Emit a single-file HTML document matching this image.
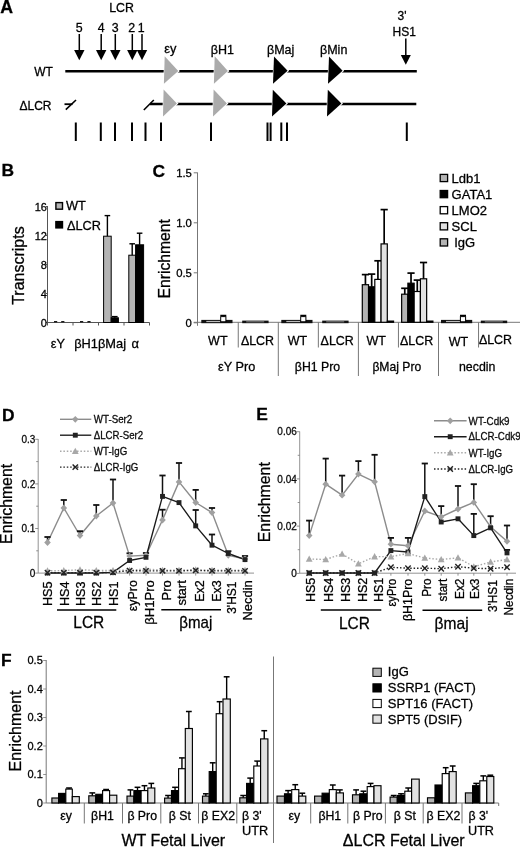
<!DOCTYPE html>
<html lang="en"><head><meta charset="utf-8"><title>Figure</title>
<style>html,body{margin:0;padding:0;background:#fff;}svg{display:block;filter:grayscale(1);}text{font-family:'Liberation Sans', sans-serif;stroke:#000;stroke-width:0.28px;}</style>
</head><body>
<svg width="520" height="848" viewBox="0 0 520 848">
<rect x="0" y="0" width="520" height="848" fill="#fff"/>
<g id="panelA">
<text x="0.2" y="12.7" font-size="17.7" text-anchor="start" font-weight="bold" fill="#000">A</text>
<text x="121.6" y="12.1" font-size="12.5" text-anchor="middle" textLength="24.8" lengthAdjust="spacingAndGlyphs" fill="#000">LCR</text>
<text x="79.3" y="31.6" font-size="12.4" text-anchor="middle" fill="#000">5</text>
<text x="101.2" y="31.6" font-size="12.4" text-anchor="middle" fill="#000">4</text>
<text x="115.2" y="31.6" font-size="12.4" text-anchor="middle" fill="#000">3</text>
<text x="131.6" y="31.6" font-size="12.4" text-anchor="middle" fill="#000">2</text>
<text x="141.3" y="31.6" font-size="12.4" text-anchor="middle" fill="#000">1</text>
<line x1="79.3" y1="34" x2="79.3" y2="52" stroke="#000" stroke-width="1.5"/>
<polygon points="74.10,50.00 84.50,50.00 79.30,60.30" fill="#000" stroke="none" stroke-width="0"/>
<line x1="101.2" y1="34" x2="101.2" y2="52" stroke="#000" stroke-width="1.5"/>
<polygon points="96.00,50.00 106.40,50.00 101.20,60.30" fill="#000" stroke="none" stroke-width="0"/>
<line x1="115.3" y1="34" x2="115.3" y2="52" stroke="#000" stroke-width="1.5"/>
<polygon points="110.10,50.00 120.50,50.00 115.30,60.30" fill="#000" stroke="none" stroke-width="0"/>
<line x1="132.3" y1="34" x2="132.3" y2="52" stroke="#000" stroke-width="1.5"/>
<polygon points="127.10,50.00 137.50,50.00 132.30,60.30" fill="#000" stroke="none" stroke-width="0"/>
<line x1="142.0" y1="34" x2="142.0" y2="52" stroke="#000" stroke-width="1.5"/>
<polygon points="136.80,50.00 147.20,50.00 142.00,60.30" fill="#000" stroke="none" stroke-width="0"/>
<text x="402" y="20" font-size="12" text-anchor="middle" fill="#000">3'</text>
<text x="404.2" y="35.6" font-size="12" text-anchor="middle" fill="#000">HS1</text>
<line x1="405.8" y1="38.5" x2="405.8" y2="57" stroke="#000" stroke-width="1.5"/>
<polygon points="400.80,55.00 410.80,55.00 405.80,64.80" fill="#000" stroke="none" stroke-width="0"/>
<text x="34.3" y="75.5" font-size="12" text-anchor="start" fill="#000">WT</text>
<line x1="65.3" y1="71.3" x2="416.8" y2="71.3" stroke="#000" stroke-width="2.5"/>
<text x="19.5" y="109.6" font-size="12" text-anchor="start" fill="#000">ΔLCR</text>
<line x1="64.5" y1="104.2" x2="72.5" y2="104.2" stroke="#000" stroke-width="1.8"/>
<line x1="65.8" y1="109.6" x2="76" y2="100" stroke="#000" stroke-width="1.6"/>
<line x1="143.8" y1="110" x2="153.8" y2="100" stroke="#000" stroke-width="1.6"/>
<line x1="150" y1="104" x2="416.3" y2="104" stroke="#000" stroke-width="2.5"/>
<polygon points="164.10,55.10 179.90,71.00 163.30,84.90" fill="#fff" stroke="none" stroke-width="0"/>
<polygon points="164.70,56.30 178.30,71.00 163.90,83.70" fill="#ababab" stroke="none" stroke-width="0"/>
<polygon points="163.00,88.20 178.50,103.60 162.40,117.80" fill="#fff" stroke="none" stroke-width="0"/>
<polygon points="163.60,89.40 176.90,103.60 163.00,116.60" fill="#ababab" stroke="none" stroke-width="0"/>
<polygon points="214.10,55.10 229.50,71.00 213.30,84.90" fill="#fff" stroke="none" stroke-width="0"/>
<polygon points="214.70,56.30 227.90,71.00 213.90,83.70" fill="#ababab" stroke="none" stroke-width="0"/>
<polygon points="213.00,88.20 228.50,103.60 212.40,117.80" fill="#fff" stroke="none" stroke-width="0"/>
<polygon points="213.60,89.40 226.90,103.60 213.00,116.60" fill="#ababab" stroke="none" stroke-width="0"/>
<polygon points="273.40,55.40 289.20,70.80 272.40,85.00" fill="#fff" stroke="none" stroke-width="0"/>
<polygon points="274.00,56.60 287.60,70.80 273.00,83.80" fill="#000" stroke="none" stroke-width="0"/>
<polygon points="272.20,88.60 288.00,103.60 271.40,117.60" fill="#fff" stroke="none" stroke-width="0"/>
<polygon points="272.80,89.80 286.40,103.60 272.00,116.40" fill="#000" stroke="none" stroke-width="0"/>
<polygon points="328.40,55.40 344.20,70.80 327.40,85.00" fill="#fff" stroke="none" stroke-width="0"/>
<polygon points="329.00,56.60 342.60,70.80 328.00,83.80" fill="#000" stroke="none" stroke-width="0"/>
<polygon points="327.20,88.60 343.00,103.60 326.40,117.60" fill="#fff" stroke="none" stroke-width="0"/>
<polygon points="327.80,89.80 341.40,103.60 327.00,116.40" fill="#000" stroke="none" stroke-width="0"/>
<text x="164.2" y="53.2" font-size="12.8" text-anchor="start" fill="#000">εy</text>
<text x="210.8" y="53.8" font-size="12.5" text-anchor="start" fill="#000">βH1</text>
<text x="267" y="54.1" font-size="12.5" text-anchor="start" fill="#000">βMaj</text>
<text x="320" y="54.1" font-size="12.5" text-anchor="start" fill="#000">βMin</text>
<line x1="75.8" y1="122.5" x2="75.8" y2="141" stroke="#000" stroke-width="2.0"/>
<line x1="100.8" y1="122.5" x2="100.8" y2="141" stroke="#000" stroke-width="2.0"/>
<line x1="115" y1="122.5" x2="115" y2="141" stroke="#000" stroke-width="2.0"/>
<line x1="132" y1="122.5" x2="132" y2="141" stroke="#000" stroke-width="2.0"/>
<line x1="145.5" y1="122.5" x2="145.5" y2="141" stroke="#000" stroke-width="2.0"/>
<line x1="161" y1="122.5" x2="161" y2="141" stroke="#000" stroke-width="2.0"/>
<line x1="211" y1="122.5" x2="211" y2="141" stroke="#000" stroke-width="2.0"/>
<line x1="267.5" y1="122.5" x2="267.5" y2="141" stroke="#000" stroke-width="2.0"/>
<line x1="270.6" y1="122.5" x2="270.6" y2="141" stroke="#000" stroke-width="2.0"/>
<line x1="281.3" y1="122.5" x2="281.3" y2="141" stroke="#000" stroke-width="2.0"/>
<line x1="287" y1="122.5" x2="287" y2="141" stroke="#000" stroke-width="2.0"/>
<line x1="406.8" y1="122.5" x2="406.8" y2="141" stroke="#000" stroke-width="2.0"/>
</g>
<g id="panelB">
<text x="1.5" y="175.7" font-size="17.4" text-anchor="start" font-weight="bold" fill="#000">B</text>
<line x1="47.5" y1="206" x2="47.5" y2="323.0" stroke="#555" stroke-width="1"/>
<line x1="47.5" y1="322.5" x2="149.5" y2="322.5" stroke="#555" stroke-width="1"/>
<line x1="46.0" y1="322.5" x2="47.5" y2="322.5" stroke="#555" stroke-width="1"/>
<text x="46.9" y="326.5" font-size="11" text-anchor="end" fill="#000">0</text>
<line x1="46.0" y1="293.5" x2="47.5" y2="293.5" stroke="#555" stroke-width="1"/>
<text x="46.9" y="297.5" font-size="11" text-anchor="end" fill="#000">4</text>
<line x1="46.0" y1="264.5" x2="47.5" y2="264.5" stroke="#555" stroke-width="1"/>
<text x="46.9" y="268.5" font-size="11" text-anchor="end" fill="#000">8</text>
<line x1="46.0" y1="235.5" x2="47.5" y2="235.5" stroke="#555" stroke-width="1"/>
<text x="46.9" y="239.5" font-size="11" text-anchor="end" fill="#000">12</text>
<line x1="46.0" y1="206.5" x2="47.5" y2="206.5" stroke="#555" stroke-width="1"/>
<text x="46.9" y="210.5" font-size="11" text-anchor="end" fill="#000">16</text>
<line x1="47.5" y1="322.5" x2="47.5" y2="325.5" stroke="#555" stroke-width="1"/>
<line x1="73.0" y1="322.5" x2="73.0" y2="325.5" stroke="#555" stroke-width="1"/>
<line x1="98.5" y1="322.5" x2="98.5" y2="325.5" stroke="#555" stroke-width="1"/>
<line x1="124.0" y1="322.5" x2="124.0" y2="325.5" stroke="#555" stroke-width="1"/>
<line x1="149.5" y1="322.5" x2="149.5" y2="325.5" stroke="#555" stroke-width="1"/>
<text x="24.2" y="265.6" font-size="16.4" text-anchor="middle" transform="rotate(-90 24.2 265.6)" textLength="78.5" lengthAdjust="spacingAndGlyphs" fill="#000">Transcripts</text>
<rect x="55.90" y="202.60" width="6.60" height="6.60" fill="#b4b4b4" stroke="#000" stroke-width="1.4"/>
<text x="66.0" y="210.2" font-size="12.8" text-anchor="start" fill="#000">WT</text>
<rect x="55.80" y="221.50" width="6.80" height="6.50" fill="#000" stroke="#000" stroke-width="1.2"/>
<text x="67.0" y="229.8" font-size="12.8" text-anchor="start" textLength="34.0" lengthAdjust="spacingAndGlyphs" fill="#000">ΔLCR</text>
<rect x="103.60" y="236.20" width="7.60" height="86.30" fill="#b4b4b4" stroke="#000" stroke-width="1"/>
<line x1="107.4" y1="215.6" x2="107.4" y2="236.2" stroke="#000" stroke-width="1.4"/>
<line x1="104.60000000000001" y1="215.6" x2="110.2" y2="215.6" stroke="#000" stroke-width="1.4"/>
<rect x="111.20" y="317.80" width="7.20" height="4.70" fill="#000" stroke="#000" stroke-width="1"/>
<line x1="114.80000000000001" y1="316.6" x2="114.80000000000001" y2="317.8" stroke="#000" stroke-width="1.4"/>
<line x1="112.00000000000001" y1="316.6" x2="117.60000000000001" y2="316.6" stroke="#000" stroke-width="1.4"/>
<rect x="128.80" y="255.20" width="6.80" height="67.30" fill="#b4b4b4" stroke="#000" stroke-width="1"/>
<line x1="132.2" y1="243.8" x2="132.2" y2="255.2" stroke="#000" stroke-width="1.4"/>
<line x1="129.39999999999998" y1="243.8" x2="135.0" y2="243.8" stroke="#000" stroke-width="1.4"/>
<rect x="135.60" y="244.80" width="8.00" height="77.70" fill="#000" stroke="#000" stroke-width="1"/>
<line x1="139.6" y1="233.2" x2="139.6" y2="244.8" stroke="#000" stroke-width="1.4"/>
<line x1="136.79999999999998" y1="233.2" x2="142.4" y2="233.2" stroke="#000" stroke-width="1.4"/>
<line x1="54.0" y1="321.7" x2="57.2" y2="321.7" stroke="#000" stroke-width="1.2"/>
<line x1="61.199999999999996" y1="321.7" x2="64.39999999999999" y2="321.7" stroke="#000" stroke-width="1.2"/>
<line x1="80.0" y1="321.7" x2="83.19999999999999" y2="321.7" stroke="#000" stroke-width="1.2"/>
<line x1="87.4" y1="321.7" x2="90.6" y2="321.7" stroke="#000" stroke-width="1.2"/>
<text x="50.8" y="347.5" font-size="12.7" text-anchor="start" fill="#000">εY</text>
<text x="74.2" y="347.5" font-size="12.7" text-anchor="start" textLength="51.8" lengthAdjust="spacingAndGlyphs" fill="#000">βH1βMaj</text>
<text x="131.5" y="347.5" font-size="12.9" text-anchor="start" fill="#000">α</text>
</g>
<g id="panelC">
<text x="152.6" y="176.5" font-size="17.4" text-anchor="start" font-weight="bold" fill="#000">C</text>
<line x1="197.5" y1="172.5" x2="197.5" y2="325.8" stroke="#777" stroke-width="1"/>
<line x1="193.7" y1="322.3" x2="520" y2="322.3" stroke="#777" stroke-width="1"/>
<line x1="193.7" y1="322.8" x2="197.5" y2="322.8" stroke="#777" stroke-width="1"/>
<text x="191.9" y="326.90000000000003" font-size="11.3" text-anchor="end" fill="#000">0</text>
<line x1="193.7" y1="272.8" x2="197.5" y2="272.8" stroke="#777" stroke-width="1"/>
<text x="191.9" y="276.90000000000003" font-size="11.3" text-anchor="end" fill="#000">0.5</text>
<line x1="193.7" y1="222.8" x2="197.5" y2="222.8" stroke="#777" stroke-width="1"/>
<text x="191.9" y="226.9" font-size="11.3" text-anchor="end" fill="#000">1.0</text>
<line x1="193.7" y1="172.8" x2="197.5" y2="172.8" stroke="#777" stroke-width="1"/>
<text x="191.9" y="176.9" font-size="11.3" text-anchor="end" fill="#000">1.5</text>
<text x="169.6" y="258.8" font-size="16.5" text-anchor="middle" transform="rotate(-90 169.6 258.8)" textLength="79.6" lengthAdjust="spacingAndGlyphs" fill="#000">Enrichment</text>
<line x1="238.25" y1="322.3" x2="238.25" y2="347.5" stroke="#777" stroke-width="1"/>
<line x1="278.29999999999995" y1="322.3" x2="278.29999999999995" y2="376" stroke="#777" stroke-width="1"/>
<line x1="318.34999999999997" y1="322.3" x2="318.34999999999997" y2="347.5" stroke="#777" stroke-width="1"/>
<line x1="358.4" y1="322.3" x2="358.4" y2="376" stroke="#777" stroke-width="1"/>
<line x1="398.45" y1="322.3" x2="398.45" y2="347.5" stroke="#777" stroke-width="1"/>
<line x1="438.5" y1="322.3" x2="438.5" y2="376" stroke="#777" stroke-width="1"/>
<line x1="478.54999999999995" y1="322.3" x2="478.54999999999995" y2="347.5" stroke="#777" stroke-width="1"/>
<text x="217.8" y="344.8" font-size="12.5" text-anchor="middle" fill="#000">WT</text>
<text x="257.5" y="344.8" font-size="12.5" text-anchor="middle" textLength="33.2" lengthAdjust="spacingAndGlyphs" fill="#000">ΔLCR</text>
<text x="297.5" y="344.8" font-size="12.5" text-anchor="middle" fill="#000">WT</text>
<text x="337.2" y="344.8" font-size="12.5" text-anchor="middle" textLength="33.2" lengthAdjust="spacingAndGlyphs" fill="#000">ΔLCR</text>
<text x="376.2" y="344.8" font-size="12.5" text-anchor="middle" fill="#000">WT</text>
<text x="416.6" y="344.6" font-size="12.5" text-anchor="middle" textLength="33.2" lengthAdjust="spacingAndGlyphs" fill="#000">ΔLCR</text>
<text x="458.4" y="345.7" font-size="12.5" text-anchor="middle" fill="#000">WT</text>
<text x="495.5" y="343.6" font-size="12.5" text-anchor="middle" textLength="33.2" lengthAdjust="spacingAndGlyphs" fill="#000">ΔLCR</text>
<text x="236.6" y="370.9" font-size="12.6" text-anchor="middle" textLength="37.2" lengthAdjust="spacingAndGlyphs" fill="#000">εY Pro</text>
<text x="317.5" y="370.9" font-size="12.6" text-anchor="middle" textLength="45.4" lengthAdjust="spacingAndGlyphs" fill="#000">βH1 Pro</text>
<text x="396.8" y="370.9" font-size="12.6" text-anchor="middle" textLength="48.8" lengthAdjust="spacingAndGlyphs" fill="#000">βMaj Pro</text>
<text x="477.2" y="370.9" font-size="12.6" text-anchor="middle" textLength="36.4" lengthAdjust="spacingAndGlyphs" fill="#000">necdin</text>
<rect x="201.3" y="319.9" width="31.2" height="3.3" fill="#111"/>
<rect x="206.3" y="320.9" width="14" height="1.2" fill="#bbb"/>
<rect x="220.70" y="316.60" width="5.20" height="5.20" fill="#fff" stroke="#000" stroke-width="1"/>
<line x1="223.3" y1="315.4" x2="223.3" y2="316.6" stroke="#000" stroke-width="1.2"/>
<line x1="220.3" y1="315.4" x2="226.3" y2="315.4" stroke="#000" stroke-width="1.3"/>
<rect x="242.2" y="320.6" width="26.4" height="2.6" fill="#111"/>
<rect x="246.2" y="321.4" width="18" height="0.9" fill="#999"/>
<rect x="281.3" y="319.9" width="31.2" height="3.3" fill="#111"/>
<rect x="286.3" y="320.9" width="14" height="1.2" fill="#bbb"/>
<rect x="300.70" y="316.60" width="5.20" height="5.20" fill="#fff" stroke="#000" stroke-width="1"/>
<line x1="303.3" y1="315.4" x2="303.3" y2="316.6" stroke="#000" stroke-width="1.2"/>
<line x1="300.3" y1="315.4" x2="306.3" y2="315.4" stroke="#000" stroke-width="1.3"/>
<rect x="322.2" y="320.6" width="26.4" height="2.6" fill="#111"/>
<rect x="326.2" y="321.4" width="18" height="0.9" fill="#999"/>
<rect x="441.0" y="319.9" width="31.2" height="3.3" fill="#111"/>
<rect x="446.0" y="320.9" width="14" height="1.2" fill="#bbb"/>
<rect x="460.40" y="316.60" width="5.20" height="5.20" fill="#fff" stroke="#000" stroke-width="1"/>
<line x1="463.0" y1="315.4" x2="463.0" y2="316.6" stroke="#000" stroke-width="1.2"/>
<line x1="460.0" y1="315.4" x2="466.0" y2="315.4" stroke="#000" stroke-width="1.3"/>
<rect x="480.8" y="320.6" width="26.4" height="2.6" fill="#111"/>
<rect x="484.8" y="321.4" width="18" height="0.9" fill="#999"/>
<rect x="362.30" y="284.70" width="6.25" height="37.60" fill="#b4b4b4" stroke="#000" stroke-width="1.2"/>
<line x1="365.42499999999995" y1="274.6" x2="365.42499999999995" y2="284.7" stroke="#000" stroke-width="1.7"/>
<line x1="361.82499999999993" y1="274.6" x2="369.025" y2="274.6" stroke="#000" stroke-width="1.7"/>
<rect x="368.55" y="286.80" width="6.25" height="35.50" fill="#000" stroke="#000" stroke-width="1.2"/>
<line x1="371.67499999999995" y1="274.1" x2="371.67499999999995" y2="286.8" stroke="#000" stroke-width="1.7"/>
<line x1="368.07499999999993" y1="274.1" x2="375.275" y2="274.1" stroke="#000" stroke-width="1.7"/>
<rect x="374.80" y="279.40" width="6.25" height="42.90" fill="#fff" stroke="#000" stroke-width="1.2"/>
<line x1="377.92499999999995" y1="260.8" x2="377.92499999999995" y2="279.40000000000003" stroke="#000" stroke-width="1.7"/>
<line x1="374.32499999999993" y1="260.8" x2="381.525" y2="260.8" stroke="#000" stroke-width="1.7"/>
<rect x="381.05" y="243.90" width="6.25" height="78.40" fill="#e2e2e2" stroke="#000" stroke-width="1.2"/>
<line x1="384.17499999999995" y1="209.60000000000002" x2="384.17499999999995" y2="243.9" stroke="#000" stroke-width="1.7"/>
<line x1="380.57499999999993" y1="209.60000000000002" x2="387.775" y2="209.60000000000002" stroke="#000" stroke-width="1.7"/>
<rect x="387.30" y="321.10" width="6.25" height="1.20" fill="#b4b4b4" stroke="#000" stroke-width="1.2"/>
<rect x="401.65" y="294.20" width="6.25" height="28.10" fill="#b4b4b4" stroke="#000" stroke-width="1.2"/>
<line x1="404.775" y1="288.3" x2="404.775" y2="294.2" stroke="#000" stroke-width="1.7"/>
<line x1="401.17499999999995" y1="288.3" x2="408.375" y2="288.3" stroke="#000" stroke-width="1.7"/>
<rect x="407.90" y="283.20" width="6.25" height="39.10" fill="#000" stroke="#000" stroke-width="1.2"/>
<line x1="411.025" y1="273.1" x2="411.025" y2="283.2" stroke="#000" stroke-width="1.7"/>
<line x1="407.42499999999995" y1="273.1" x2="414.625" y2="273.1" stroke="#000" stroke-width="1.7"/>
<rect x="414.15" y="291.50" width="6.25" height="30.80" fill="#fff" stroke="#000" stroke-width="1.2"/>
<line x1="417.275" y1="280.1" x2="417.275" y2="291.5" stroke="#000" stroke-width="1.7"/>
<line x1="413.67499999999995" y1="280.1" x2="420.875" y2="280.1" stroke="#000" stroke-width="1.7"/>
<rect x="420.40" y="278.80" width="6.25" height="43.50" fill="#e2e2e2" stroke="#000" stroke-width="1.2"/>
<line x1="423.525" y1="262.5" x2="423.525" y2="278.8" stroke="#000" stroke-width="1.7"/>
<line x1="419.92499999999995" y1="262.5" x2="427.125" y2="262.5" stroke="#000" stroke-width="1.7"/>
<rect x="426.65" y="321.10" width="6.25" height="1.20" fill="#b4b4b4" stroke="#000" stroke-width="1.2"/>
<rect x="440.20" y="174.40" width="7.40" height="7.20" fill="#b4b4b4" stroke="#000" stroke-width="1.3"/>
<text x="451.6" y="183.0" font-size="13" text-anchor="start" fill="#000">Ldb1</text>
<rect x="440.20" y="190.50" width="7.40" height="7.20" fill="#000" stroke="#000" stroke-width="1.3"/>
<text x="451.6" y="199.1" font-size="13" text-anchor="start" fill="#000">GATA1</text>
<rect x="440.20" y="206.60" width="7.40" height="7.20" fill="#fff" stroke="#000" stroke-width="1.3"/>
<text x="451.6" y="215.20000000000002" font-size="13" text-anchor="start" fill="#000">LMO2</text>
<rect x="440.20" y="222.70" width="7.40" height="7.20" fill="#e2e2e2" stroke="#000" stroke-width="1.3"/>
<text x="451.6" y="231.3" font-size="13" text-anchor="start" fill="#000">SCL</text>
<rect x="440.20" y="238.80" width="7.40" height="7.20" fill="#b4b4b4" stroke="#000" stroke-width="1.3"/>
<text x="454.2" y="247.4" font-size="13" text-anchor="start" fill="#000">IgG</text>
</g>
<g id="panelD">
<text x="2" y="420.7" font-size="17.4" text-anchor="start" font-weight="bold" fill="#000">D</text>
<line x1="38.2" y1="439" x2="38.2" y2="573.1" stroke="#777" stroke-width="0.8"/>
<line x1="38.2" y1="573.1" x2="254" y2="573.1" stroke="#777" stroke-width="0.8"/>
<line x1="35.2" y1="439.3" x2="38.2" y2="439.3" stroke="#777" stroke-width="0.8"/>
<text x="35.300000000000004" y="443.0" font-size="10" text-anchor="end" fill="#111" stroke="#111" stroke-width="0.35">0.3</text>
<line x1="35.2" y1="483.9" x2="38.2" y2="483.9" stroke="#777" stroke-width="0.8"/>
<text x="35.300000000000004" y="487.59999999999997" font-size="10" text-anchor="end" fill="#111" stroke="#111" stroke-width="0.35">0.2</text>
<line x1="35.2" y1="528.5" x2="38.2" y2="528.5" stroke="#777" stroke-width="0.8"/>
<text x="35.300000000000004" y="532.2" font-size="10" text-anchor="end" fill="#111" stroke="#111" stroke-width="0.35">0.1</text>
<line x1="35.2" y1="573.1" x2="38.2" y2="573.1" stroke="#777" stroke-width="0.8"/>
<text x="35.300000000000004" y="576.8000000000001" font-size="10" text-anchor="end" fill="#111" stroke="#111" stroke-width="0.35">0</text>
<line x1="36.2" y1="461.6" x2="38.2" y2="461.6" stroke="#777" stroke-width="0.8"/>
<line x1="36.2" y1="506.2" x2="38.2" y2="506.2" stroke="#777" stroke-width="0.8"/>
<line x1="36.2" y1="550.8" x2="38.2" y2="550.8" stroke="#777" stroke-width="0.8"/>
<line x1="47.5" y1="573.1" x2="47.5" y2="575.6" stroke="#777" stroke-width="0.8"/>
<line x1="63.8" y1="573.1" x2="63.8" y2="575.6" stroke="#777" stroke-width="0.8"/>
<line x1="80.0" y1="573.1" x2="80.0" y2="575.6" stroke="#777" stroke-width="0.8"/>
<line x1="96.3" y1="573.1" x2="96.3" y2="575.6" stroke="#777" stroke-width="0.8"/>
<line x1="113.0" y1="573.1" x2="113.0" y2="575.6" stroke="#777" stroke-width="0.8"/>
<line x1="129.6" y1="573.1" x2="129.6" y2="575.6" stroke="#777" stroke-width="0.8"/>
<line x1="146.0" y1="573.1" x2="146.0" y2="575.6" stroke="#777" stroke-width="0.8"/>
<line x1="162.5" y1="573.1" x2="162.5" y2="575.6" stroke="#777" stroke-width="0.8"/>
<line x1="179.0" y1="573.1" x2="179.0" y2="575.6" stroke="#777" stroke-width="0.8"/>
<line x1="195.7" y1="573.1" x2="195.7" y2="575.6" stroke="#777" stroke-width="0.8"/>
<line x1="212.0" y1="573.1" x2="212.0" y2="575.6" stroke="#777" stroke-width="0.8"/>
<line x1="228.3" y1="573.1" x2="228.3" y2="575.6" stroke="#777" stroke-width="0.8"/>
<line x1="245.0" y1="573.1" x2="245.0" y2="575.6" stroke="#777" stroke-width="0.8"/>
<text x="12.4" y="503.9" font-size="16.5" text-anchor="middle" transform="rotate(-90 12.4 503.9)" textLength="80" lengthAdjust="spacingAndGlyphs" fill="#000">Enrichment</text>
<polyline points="47.5,542.5 63.8,508.0 80.0,535.5 96.3,516.0 113.0,503.0 129.6,556.1 146.0,555.3 162.5,520.0 179.0,481.9 195.7,502.5 212.0,512.6 228.3,555.3 245.0,559.0" fill="none" stroke="#8c8c8c" stroke-width="1.4" stroke-linejoin="round"/>
<polyline points="47.5,573.0 63.8,573.0 80.0,573.0 96.3,573.0 113.0,572.4 129.6,560.5 146.0,557.3 162.5,496.4 179.0,502.6 195.7,525.9 212.0,545.2 228.3,553.5 245.0,559.6" fill="none" stroke="#1a1a1a" stroke-width="1.35" stroke-linejoin="round"/>
<polyline points="47.5,570.8 63.8,570.6 80.0,569.8 96.3,570.4 113.0,570.4 129.6,570.2 146.0,569.0 162.5,570.2 179.0,570.2 195.7,569.7 212.0,570.2 228.3,570.2 245.0,570.2" fill="none" stroke="#a8a8a8" stroke-width="1.4" stroke-dasharray="1.5 1.9" stroke-linejoin="round"/>
<polyline points="47.5,572.6 63.8,572.6 80.0,572.6 96.3,572.6 113.0,572.4 129.6,570.6 146.0,570.9 162.5,570.9 179.0,570.9 195.7,570.4 212.0,570.9 228.3,570.9 245.0,570.9" fill="none" stroke="#222" stroke-width="1.4" stroke-dasharray="1.5 1.9" stroke-linejoin="round"/>
<line x1="47.5" y1="537" x2="47.5" y2="542.5" stroke="#111" stroke-width="1.5"/>
<line x1="44.4" y1="537" x2="50.6" y2="537" stroke="#111" stroke-width="1.8"/>
<line x1="63.8" y1="500" x2="63.8" y2="508" stroke="#111" stroke-width="1.5"/>
<line x1="60.699999999999996" y1="500" x2="66.89999999999999" y2="500" stroke="#111" stroke-width="1.8"/>
<line x1="80.0" y1="531.2" x2="80.0" y2="535.5" stroke="#111" stroke-width="1.5"/>
<line x1="76.9" y1="531.2" x2="83.1" y2="531.2" stroke="#111" stroke-width="1.8"/>
<line x1="96.3" y1="505" x2="96.3" y2="516" stroke="#111" stroke-width="1.5"/>
<line x1="93.2" y1="505" x2="99.39999999999999" y2="505" stroke="#111" stroke-width="1.8"/>
<line x1="113.0" y1="479.5" x2="113.0" y2="503" stroke="#111" stroke-width="1.5"/>
<line x1="109.9" y1="479.5" x2="116.1" y2="479.5" stroke="#111" stroke-width="1.8"/>
<line x1="129.6" y1="553.3" x2="129.6" y2="556.1" stroke="#111" stroke-width="1.5"/>
<line x1="126.5" y1="553.3" x2="132.7" y2="553.3" stroke="#111" stroke-width="1.8"/>
<line x1="146.0" y1="553.0" x2="146.0" y2="555.3" stroke="#111" stroke-width="1.5"/>
<line x1="142.9" y1="553.0" x2="149.1" y2="553.0" stroke="#111" stroke-width="1.8"/>
<line x1="162.5" y1="509.7" x2="162.5" y2="520" stroke="#111" stroke-width="1.5"/>
<line x1="159.4" y1="509.7" x2="165.6" y2="509.7" stroke="#111" stroke-width="1.8"/>
<line x1="179.0" y1="463" x2="179.0" y2="481.9" stroke="#111" stroke-width="1.5"/>
<line x1="175.9" y1="463" x2="182.1" y2="463" stroke="#111" stroke-width="1.8"/>
<line x1="195.7" y1="489.9" x2="195.7" y2="502.5" stroke="#111" stroke-width="1.5"/>
<line x1="192.6" y1="489.9" x2="198.79999999999998" y2="489.9" stroke="#111" stroke-width="1.8"/>
<line x1="212.0" y1="508" x2="212.0" y2="512.6" stroke="#111" stroke-width="1.5"/>
<line x1="208.9" y1="508" x2="215.1" y2="508" stroke="#111" stroke-width="1.8"/>
<line x1="228.3" y1="551.2" x2="228.3" y2="555.3" stroke="#111" stroke-width="1.5"/>
<line x1="225.20000000000002" y1="551.2" x2="231.4" y2="551.2" stroke="#111" stroke-width="1.8"/>
<line x1="245.0" y1="556" x2="245.0" y2="559" stroke="#111" stroke-width="1.5"/>
<line x1="241.9" y1="556" x2="248.1" y2="556" stroke="#111" stroke-width="1.8"/>
<line x1="162.5" y1="475.5" x2="162.5" y2="496.4" stroke="#111" stroke-width="1.5"/>
<line x1="159.4" y1="475.5" x2="165.6" y2="475.5" stroke="#111" stroke-width="1.8"/>
<line x1="195.7" y1="510" x2="195.7" y2="525.9" stroke="#111" stroke-width="1.5"/>
<line x1="192.6" y1="510" x2="198.79999999999998" y2="510" stroke="#111" stroke-width="1.8"/>
<line x1="212.0" y1="534.5" x2="212.0" y2="545.2" stroke="#111" stroke-width="1.5"/>
<line x1="208.9" y1="534.5" x2="215.1" y2="534.5" stroke="#111" stroke-width="1.8"/>
<polygon points="44.20,542.50 47.50,539.10 50.80,542.50 47.50,545.90" fill="#a0a0a0" stroke="none" stroke-width="0"/>
<polygon points="60.50,508.00 63.80,504.60 67.10,508.00 63.80,511.40" fill="#a0a0a0" stroke="none" stroke-width="0"/>
<polygon points="76.70,535.50 80.00,532.10 83.30,535.50 80.00,538.90" fill="#a0a0a0" stroke="none" stroke-width="0"/>
<polygon points="93.00,516.00 96.30,512.60 99.60,516.00 96.30,519.40" fill="#a0a0a0" stroke="none" stroke-width="0"/>
<polygon points="109.70,503.00 113.00,499.60 116.30,503.00 113.00,506.40" fill="#a0a0a0" stroke="none" stroke-width="0"/>
<polygon points="126.30,556.10 129.60,552.70 132.90,556.10 129.60,559.50" fill="#a0a0a0" stroke="none" stroke-width="0"/>
<polygon points="142.70,555.30 146.00,551.90 149.30,555.30 146.00,558.70" fill="#a0a0a0" stroke="none" stroke-width="0"/>
<polygon points="159.20,520.00 162.50,516.60 165.80,520.00 162.50,523.40" fill="#a0a0a0" stroke="none" stroke-width="0"/>
<polygon points="175.70,481.90 179.00,478.50 182.30,481.90 179.00,485.30" fill="#a0a0a0" stroke="none" stroke-width="0"/>
<polygon points="192.40,502.50 195.70,499.10 199.00,502.50 195.70,505.90" fill="#a0a0a0" stroke="none" stroke-width="0"/>
<polygon points="208.70,512.60 212.00,509.20 215.30,512.60 212.00,516.00" fill="#a0a0a0" stroke="none" stroke-width="0"/>
<polygon points="225.00,555.30 228.30,551.90 231.60,555.30 228.30,558.70" fill="#a0a0a0" stroke="none" stroke-width="0"/>
<polygon points="241.70,559.00 245.00,555.60 248.30,559.00 245.00,562.40" fill="#a0a0a0" stroke="none" stroke-width="0"/>
<rect x="45.05" y="570.55" width="4.9" height="4.9" fill="#222"/>
<rect x="61.35" y="570.55" width="4.9" height="4.9" fill="#222"/>
<rect x="77.55" y="570.55" width="4.9" height="4.9" fill="#222"/>
<rect x="93.85" y="570.55" width="4.9" height="4.9" fill="#222"/>
<rect x="110.55" y="569.95" width="4.9" height="4.9" fill="#222"/>
<rect x="127.15" y="558.05" width="4.9" height="4.9" fill="#222"/>
<rect x="143.55" y="554.85" width="4.9" height="4.9" fill="#222"/>
<rect x="160.05" y="493.95" width="4.9" height="4.9" fill="#222"/>
<rect x="176.55" y="500.15" width="4.9" height="4.9" fill="#222"/>
<rect x="193.25" y="523.45" width="4.9" height="4.9" fill="#222"/>
<rect x="209.55" y="542.75" width="4.9" height="4.9" fill="#222"/>
<rect x="225.85" y="551.05" width="4.9" height="4.9" fill="#222"/>
<rect x="242.55" y="557.15" width="4.9" height="4.9" fill="#222"/>
<polygon points="44.10,573.60 50.90,573.60 47.50,567.30" fill="#a8a8a8" stroke="none" stroke-width="0"/>
<polygon points="60.40,573.40 67.20,573.40 63.80,567.10" fill="#a8a8a8" stroke="none" stroke-width="0"/>
<polygon points="76.60,572.60 83.40,572.60 80.00,566.30" fill="#a8a8a8" stroke="none" stroke-width="0"/>
<polygon points="92.90,573.20 99.70,573.20 96.30,566.90" fill="#a8a8a8" stroke="none" stroke-width="0"/>
<polygon points="109.60,573.20 116.40,573.20 113.00,566.90" fill="#a8a8a8" stroke="none" stroke-width="0"/>
<polygon points="126.20,573.00 133.00,573.00 129.60,566.70" fill="#a8a8a8" stroke="none" stroke-width="0"/>
<polygon points="142.60,571.80 149.40,571.80 146.00,565.50" fill="#a8a8a8" stroke="none" stroke-width="0"/>
<polygon points="159.10,573.00 165.90,573.00 162.50,566.70" fill="#a8a8a8" stroke="none" stroke-width="0"/>
<polygon points="175.60,573.00 182.40,573.00 179.00,566.70" fill="#a8a8a8" stroke="none" stroke-width="0"/>
<polygon points="192.30,572.50 199.10,572.50 195.70,566.20" fill="#a8a8a8" stroke="none" stroke-width="0"/>
<polygon points="208.60,573.00 215.40,573.00 212.00,566.70" fill="#a8a8a8" stroke="none" stroke-width="0"/>
<polygon points="224.90,573.00 231.70,573.00 228.30,566.70" fill="#a8a8a8" stroke="none" stroke-width="0"/>
<polygon points="241.60,573.00 248.40,573.00 245.00,566.70" fill="#a8a8a8" stroke="none" stroke-width="0"/>
<line x1="44.8" y1="569.9" x2="50.2" y2="575.3000000000001" stroke="#222" stroke-width="1.4"/>
<line x1="44.8" y1="575.3000000000001" x2="50.2" y2="569.9" stroke="#222" stroke-width="1.4"/>
<line x1="61.099999999999994" y1="569.9" x2="66.5" y2="575.3000000000001" stroke="#222" stroke-width="1.4"/>
<line x1="61.099999999999994" y1="575.3000000000001" x2="66.5" y2="569.9" stroke="#222" stroke-width="1.4"/>
<line x1="77.3" y1="569.9" x2="82.7" y2="575.3000000000001" stroke="#222" stroke-width="1.4"/>
<line x1="77.3" y1="575.3000000000001" x2="82.7" y2="569.9" stroke="#222" stroke-width="1.4"/>
<line x1="93.6" y1="569.9" x2="99.0" y2="575.3000000000001" stroke="#222" stroke-width="1.4"/>
<line x1="93.6" y1="575.3000000000001" x2="99.0" y2="569.9" stroke="#222" stroke-width="1.4"/>
<line x1="110.3" y1="569.6999999999999" x2="115.7" y2="575.1" stroke="#222" stroke-width="1.4"/>
<line x1="110.3" y1="575.1" x2="115.7" y2="569.6999999999999" stroke="#222" stroke-width="1.4"/>
<line x1="126.89999999999999" y1="567.9" x2="132.29999999999998" y2="573.3000000000001" stroke="#222" stroke-width="1.4"/>
<line x1="126.89999999999999" y1="573.3000000000001" x2="132.29999999999998" y2="567.9" stroke="#222" stroke-width="1.4"/>
<line x1="143.3" y1="568.1999999999999" x2="148.7" y2="573.6" stroke="#222" stroke-width="1.4"/>
<line x1="143.3" y1="573.6" x2="148.7" y2="568.1999999999999" stroke="#222" stroke-width="1.4"/>
<line x1="159.8" y1="568.1999999999999" x2="165.2" y2="573.6" stroke="#222" stroke-width="1.4"/>
<line x1="159.8" y1="573.6" x2="165.2" y2="568.1999999999999" stroke="#222" stroke-width="1.4"/>
<line x1="176.3" y1="568.1999999999999" x2="181.7" y2="573.6" stroke="#222" stroke-width="1.4"/>
<line x1="176.3" y1="573.6" x2="181.7" y2="568.1999999999999" stroke="#222" stroke-width="1.4"/>
<line x1="193.0" y1="567.6999999999999" x2="198.39999999999998" y2="573.1" stroke="#222" stroke-width="1.4"/>
<line x1="193.0" y1="573.1" x2="198.39999999999998" y2="567.6999999999999" stroke="#222" stroke-width="1.4"/>
<line x1="209.3" y1="568.1999999999999" x2="214.7" y2="573.6" stroke="#222" stroke-width="1.4"/>
<line x1="209.3" y1="573.6" x2="214.7" y2="568.1999999999999" stroke="#222" stroke-width="1.4"/>
<line x1="225.60000000000002" y1="568.1999999999999" x2="231.0" y2="573.6" stroke="#222" stroke-width="1.4"/>
<line x1="225.60000000000002" y1="573.6" x2="231.0" y2="568.1999999999999" stroke="#222" stroke-width="1.4"/>
<line x1="242.3" y1="568.1999999999999" x2="247.7" y2="573.6" stroke="#222" stroke-width="1.4"/>
<line x1="242.3" y1="573.6" x2="247.7" y2="568.1999999999999" stroke="#222" stroke-width="1.4"/>
<line x1="60" y1="419.3" x2="91.3" y2="419.3" stroke="#8c8c8c" stroke-width="1.4"/>
<polygon points="72.00,419.30 75.30,415.90 78.60,419.30 75.30,422.70" fill="#a0a0a0" stroke="none" stroke-width="0"/>
<text x="93.8" y="423.0" font-size="10.3" text-anchor="start" textLength="38.5" lengthAdjust="spacingAndGlyphs" fill="#111" stroke="#111" stroke-width="0.3">WT-Ser2</text>
<line x1="60" y1="435.2" x2="91.3" y2="435.2" stroke="#1a1a1a" stroke-width="1.35"/>
<rect x="72.85" y="432.75" width="4.9" height="4.9" fill="#222"/>
<text x="93.8" y="438.9" font-size="10.3" text-anchor="start" textLength="49.4" lengthAdjust="spacingAndGlyphs" fill="#111" stroke="#111" stroke-width="0.3">ΔLCR-Ser2</text>
<line x1="60" y1="451.2" x2="91.3" y2="451.2" stroke="#a8a8a8" stroke-width="1.4" stroke-dasharray="1.5 1.9"/>
<polygon points="71.90,454.00 78.70,454.00 75.30,447.70" fill="#a8a8a8" stroke="none" stroke-width="0"/>
<text x="93.8" y="454.9" font-size="10.3" text-anchor="start" textLength="33.5" lengthAdjust="spacingAndGlyphs" fill="#111" stroke="#111" stroke-width="0.3">WT-IgG</text>
<line x1="60" y1="467.1" x2="91.3" y2="467.1" stroke="#222" stroke-width="1.4" stroke-dasharray="1.5 1.9"/>
<line x1="72.6" y1="464.40000000000003" x2="78.0" y2="469.8" stroke="#222" stroke-width="1.4"/>
<line x1="72.6" y1="469.8" x2="78.0" y2="464.40000000000003" stroke="#222" stroke-width="1.4"/>
<text x="93.8" y="470.8" font-size="10.3" text-anchor="start" textLength="44.5" lengthAdjust="spacingAndGlyphs" fill="#111" stroke="#111" stroke-width="0.3">ΔLCR-IgG</text>
<text x="52.2" y="581.4" font-size="13.0" text-anchor="end" transform="rotate(-90 52.2 581.4)" textLength="24.6" lengthAdjust="spacingAndGlyphs" fill="#000">HS5</text>
<text x="68.7" y="581.4" font-size="13.0" text-anchor="end" transform="rotate(-90 68.7 581.4)" textLength="24.6" lengthAdjust="spacingAndGlyphs" fill="#000">HS4</text>
<text x="85.0" y="581.4" font-size="13.0" text-anchor="end" transform="rotate(-90 85.0 581.4)" textLength="24.6" lengthAdjust="spacingAndGlyphs" fill="#000">HS3</text>
<text x="101.3" y="581.4" font-size="13.0" text-anchor="end" transform="rotate(-90 101.3 581.4)" textLength="24.6" lengthAdjust="spacingAndGlyphs" fill="#000">HS2</text>
<text x="118.0" y="581.4" font-size="13.0" text-anchor="end" transform="rotate(-90 118.0 581.4)" textLength="24.6" lengthAdjust="spacingAndGlyphs" fill="#000">HS1</text>
<text x="137.4" y="580.2" font-size="13.0" text-anchor="end" transform="rotate(-90 137.4 580.2)" textLength="31.0" lengthAdjust="spacingAndGlyphs" fill="#000">εyPro</text>
<text x="153.8" y="580.2" font-size="13.0" text-anchor="end" transform="rotate(-90 153.8 580.2)" textLength="44.6" lengthAdjust="spacingAndGlyphs" fill="#000">βH1Pro</text>
<text x="171.2" y="580.2" font-size="13.0" text-anchor="end" transform="rotate(-90 171.2 580.2)" textLength="20.2" lengthAdjust="spacingAndGlyphs" fill="#000">Pro</text>
<text x="186.3" y="580.2" font-size="13.0" text-anchor="end" transform="rotate(-90 186.3 580.2)" textLength="25.4" lengthAdjust="spacingAndGlyphs" fill="#000">start</text>
<text x="203.6" y="580.2" font-size="13.0" text-anchor="end" transform="rotate(-90 203.6 580.2)" textLength="21.6" lengthAdjust="spacingAndGlyphs" fill="#000">Ex2</text>
<text x="220.6" y="580.2" font-size="13.0" text-anchor="end" transform="rotate(-90 220.6 580.2)" textLength="21.6" lengthAdjust="spacingAndGlyphs" fill="#000">Ex3</text>
<text x="236.0" y="581.6" font-size="13.0" text-anchor="end" transform="rotate(-90 236.0 581.6)" textLength="32.2" lengthAdjust="spacingAndGlyphs" fill="#000">3'HS1</text>
<text x="251.8" y="580.2" font-size="13.0" text-anchor="end" transform="rotate(-90 251.8 580.2)" textLength="40.4" lengthAdjust="spacingAndGlyphs" fill="#000">Necdin</text>
<line x1="57" y1="610" x2="116.3" y2="610" stroke="#000" stroke-width="1.6"/>
<text x="88.8" y="628.2" font-size="16.2" text-anchor="middle" textLength="31.0" lengthAdjust="spacingAndGlyphs" fill="#000">LCR</text>
<line x1="161.3" y1="609.8" x2="221" y2="609.8" stroke="#000" stroke-width="1.6"/>
<text x="195.8" y="627.8" font-size="16.2" text-anchor="middle" textLength="33.0" lengthAdjust="spacingAndGlyphs" fill="#000">βmaj</text>
</g>
<g id="panelE">
<text x="256.3" y="419.8" font-size="17.4" text-anchor="start" font-weight="bold" fill="#000">E</text>
<line x1="299.7" y1="431.5" x2="299.7" y2="573.2" stroke="#777" stroke-width="0.8"/>
<line x1="299.7" y1="573.2" x2="516" y2="573.2" stroke="#777" stroke-width="0.8"/>
<line x1="296.7" y1="431.7" x2="299.7" y2="431.7" stroke="#777" stroke-width="0.8"/>
<text x="296.8" y="435.4" font-size="10" text-anchor="end" fill="#111" stroke="#111" stroke-width="0.35">0.06</text>
<line x1="296.7" y1="478.9" x2="299.7" y2="478.9" stroke="#777" stroke-width="0.8"/>
<text x="296.8" y="482.59999999999997" font-size="10" text-anchor="end" fill="#111" stroke="#111" stroke-width="0.35">0.04</text>
<line x1="296.7" y1="526.1" x2="299.7" y2="526.1" stroke="#777" stroke-width="0.8"/>
<text x="296.8" y="529.8000000000001" font-size="10" text-anchor="end" fill="#111" stroke="#111" stroke-width="0.35">0.02</text>
<line x1="296.7" y1="573.4" x2="299.7" y2="573.4" stroke="#777" stroke-width="0.8"/>
<text x="296.8" y="577.1" font-size="10" text-anchor="end" fill="#111" stroke="#111" stroke-width="0.35">0</text>
<line x1="297.7" y1="455.3" x2="299.7" y2="455.3" stroke="#777" stroke-width="0.8"/>
<line x1="297.7" y1="502.5" x2="299.7" y2="502.5" stroke="#777" stroke-width="0.8"/>
<line x1="297.7" y1="549.7" x2="299.7" y2="549.7" stroke="#777" stroke-width="0.8"/>
<line x1="309.2" y1="573.2" x2="309.2" y2="575.7" stroke="#777" stroke-width="0.8"/>
<line x1="325.7" y1="573.2" x2="325.7" y2="575.7" stroke="#777" stroke-width="0.8"/>
<line x1="342.1" y1="573.2" x2="342.1" y2="575.7" stroke="#777" stroke-width="0.8"/>
<line x1="358.4" y1="573.2" x2="358.4" y2="575.7" stroke="#777" stroke-width="0.8"/>
<line x1="374.6" y1="573.2" x2="374.6" y2="575.7" stroke="#777" stroke-width="0.8"/>
<line x1="390.9" y1="573.2" x2="390.9" y2="575.7" stroke="#777" stroke-width="0.8"/>
<line x1="408.0" y1="573.2" x2="408.0" y2="575.7" stroke="#777" stroke-width="0.8"/>
<line x1="424.8" y1="573.2" x2="424.8" y2="575.7" stroke="#777" stroke-width="0.8"/>
<line x1="441.2" y1="573.2" x2="441.2" y2="575.7" stroke="#777" stroke-width="0.8"/>
<line x1="458.0" y1="573.2" x2="458.0" y2="575.7" stroke="#777" stroke-width="0.8"/>
<line x1="473.8" y1="573.2" x2="473.8" y2="575.7" stroke="#777" stroke-width="0.8"/>
<line x1="490.6" y1="573.2" x2="490.6" y2="575.7" stroke="#777" stroke-width="0.8"/>
<line x1="507.0" y1="573.2" x2="507.0" y2="575.7" stroke="#777" stroke-width="0.8"/>
<text x="270.2" y="502.2" font-size="16.5" text-anchor="middle" transform="rotate(-90 270.2 502.2)" textLength="80" lengthAdjust="spacingAndGlyphs" fill="#000">Enrichment</text>
<polyline points="309.2,535.6 325.7,484.2 342.1,495.2 358.4,474.1 374.6,481.8 390.9,544.2 408.0,545.7 424.8,511.0 441.2,516.8 458.0,509.0 473.8,502.4 490.6,526.9 507.0,541.3" fill="none" stroke="#8c8c8c" stroke-width="1.4" stroke-linejoin="round"/>
<polyline points="309.2,573.0 325.7,573.0 342.1,573.0 358.4,573.0 374.6,573.0 390.9,550.6 408.0,552.0 424.8,496.6 441.2,522.0 458.0,518.8 473.8,535.6 490.6,527.8 507.0,552.9" fill="none" stroke="#1a1a1a" stroke-width="1.35" stroke-linejoin="round"/>
<polyline points="309.2,559.0 325.7,559.5 342.1,554.0 358.4,563.8 374.6,556.6 390.9,556.6 408.0,553.5 424.8,558.0 441.2,559.5 458.0,557.8 473.8,566.7 490.6,562.0 507.0,559.5" fill="none" stroke="#a8a8a8" stroke-width="1.4" stroke-dasharray="1.5 1.9" stroke-linejoin="round"/>
<polyline points="309.2,573.0 325.7,573.0 342.1,573.0 358.4,573.0 374.6,573.0 390.9,567.3 408.0,568.2 424.8,568.2 441.2,568.7 458.0,566.7 473.8,568.2 490.6,568.7 507.0,567.3" fill="none" stroke="#222" stroke-width="1.4" stroke-dasharray="1.5 1.9" stroke-linejoin="round"/>
<line x1="309.2" y1="520.6" x2="309.2" y2="535.6" stroke="#111" stroke-width="1.5"/>
<line x1="306.09999999999997" y1="520.6" x2="312.3" y2="520.6" stroke="#111" stroke-width="1.8"/>
<line x1="325.7" y1="458.6" x2="325.7" y2="484.2" stroke="#111" stroke-width="1.5"/>
<line x1="322.59999999999997" y1="458.6" x2="328.8" y2="458.6" stroke="#111" stroke-width="1.8"/>
<line x1="342.1" y1="475.6" x2="342.1" y2="495.2" stroke="#111" stroke-width="1.5"/>
<line x1="339.0" y1="475.6" x2="345.20000000000005" y2="475.6" stroke="#111" stroke-width="1.8"/>
<line x1="358.4" y1="461.1" x2="358.4" y2="474.1" stroke="#111" stroke-width="1.5"/>
<line x1="355.29999999999995" y1="461.1" x2="361.5" y2="461.1" stroke="#111" stroke-width="1.8"/>
<line x1="374.6" y1="454.8" x2="374.6" y2="481.8" stroke="#111" stroke-width="1.5"/>
<line x1="371.5" y1="454.8" x2="377.70000000000005" y2="454.8" stroke="#111" stroke-width="1.8"/>
<line x1="390.9" y1="537.9" x2="390.9" y2="544.2" stroke="#111" stroke-width="1.5"/>
<line x1="387.79999999999995" y1="537.9" x2="394.0" y2="537.9" stroke="#111" stroke-width="1.8"/>
<line x1="408.0" y1="537.9" x2="408.0" y2="545.7" stroke="#111" stroke-width="1.5"/>
<line x1="404.9" y1="537.9" x2="411.1" y2="537.9" stroke="#111" stroke-width="1.8"/>
<line x1="441.2" y1="506.1" x2="441.2" y2="516.8" stroke="#111" stroke-width="1.5"/>
<line x1="438.09999999999997" y1="506.1" x2="444.3" y2="506.1" stroke="#111" stroke-width="1.8"/>
<line x1="458.0" y1="486" x2="458.0" y2="509" stroke="#111" stroke-width="1.5"/>
<line x1="454.9" y1="486" x2="461.1" y2="486" stroke="#111" stroke-width="1.8"/>
<line x1="473.8" y1="484.2" x2="473.8" y2="502.4" stroke="#111" stroke-width="1.5"/>
<line x1="470.7" y1="484.2" x2="476.90000000000003" y2="484.2" stroke="#111" stroke-width="1.8"/>
<line x1="490.6" y1="516.2" x2="490.6" y2="526.9" stroke="#111" stroke-width="1.5"/>
<line x1="487.5" y1="516.2" x2="493.70000000000005" y2="516.2" stroke="#111" stroke-width="1.8"/>
<line x1="507.0" y1="525.5" x2="507.0" y2="541.3" stroke="#111" stroke-width="1.5"/>
<line x1="503.9" y1="525.5" x2="510.1" y2="525.5" stroke="#111" stroke-width="1.8"/>
<line x1="424.8" y1="463.5" x2="424.8" y2="496.6" stroke="#111" stroke-width="1.5"/>
<line x1="421.7" y1="463.5" x2="427.90000000000003" y2="463.5" stroke="#111" stroke-width="1.8"/>
<line x1="473.8" y1="513.9" x2="473.8" y2="535.6" stroke="#111" stroke-width="1.5"/>
<line x1="470.7" y1="513.9" x2="476.90000000000003" y2="513.9" stroke="#111" stroke-width="1.8"/>
<line x1="507.0" y1="549.9" x2="507.0" y2="552.9" stroke="#111" stroke-width="1.5"/>
<line x1="503.9" y1="549.9" x2="510.1" y2="549.9" stroke="#111" stroke-width="1.8"/>
<polygon points="305.90,535.60 309.20,532.20 312.50,535.60 309.20,539.00" fill="#a0a0a0" stroke="none" stroke-width="0"/>
<polygon points="322.40,484.20 325.70,480.80 329.00,484.20 325.70,487.60" fill="#a0a0a0" stroke="none" stroke-width="0"/>
<polygon points="338.80,495.20 342.10,491.80 345.40,495.20 342.10,498.60" fill="#a0a0a0" stroke="none" stroke-width="0"/>
<polygon points="355.10,474.10 358.40,470.70 361.70,474.10 358.40,477.50" fill="#a0a0a0" stroke="none" stroke-width="0"/>
<polygon points="371.30,481.80 374.60,478.40 377.90,481.80 374.60,485.20" fill="#a0a0a0" stroke="none" stroke-width="0"/>
<polygon points="387.60,544.20 390.90,540.80 394.20,544.20 390.90,547.60" fill="#a0a0a0" stroke="none" stroke-width="0"/>
<polygon points="404.70,545.70 408.00,542.30 411.30,545.70 408.00,549.10" fill="#a0a0a0" stroke="none" stroke-width="0"/>
<polygon points="421.50,511.00 424.80,507.60 428.10,511.00 424.80,514.40" fill="#a0a0a0" stroke="none" stroke-width="0"/>
<polygon points="437.90,516.80 441.20,513.40 444.50,516.80 441.20,520.20" fill="#a0a0a0" stroke="none" stroke-width="0"/>
<polygon points="454.70,509.00 458.00,505.60 461.30,509.00 458.00,512.40" fill="#a0a0a0" stroke="none" stroke-width="0"/>
<polygon points="470.50,502.40 473.80,499.00 477.10,502.40 473.80,505.80" fill="#a0a0a0" stroke="none" stroke-width="0"/>
<polygon points="487.30,526.90 490.60,523.50 493.90,526.90 490.60,530.30" fill="#a0a0a0" stroke="none" stroke-width="0"/>
<polygon points="503.70,541.30 507.00,537.90 510.30,541.30 507.00,544.70" fill="#a0a0a0" stroke="none" stroke-width="0"/>
<rect x="306.75" y="570.55" width="4.9" height="4.9" fill="#222"/>
<rect x="323.25" y="570.55" width="4.9" height="4.9" fill="#222"/>
<rect x="339.65" y="570.55" width="4.9" height="4.9" fill="#222"/>
<rect x="355.95" y="570.55" width="4.9" height="4.9" fill="#222"/>
<rect x="372.15" y="570.55" width="4.9" height="4.9" fill="#222"/>
<rect x="388.45" y="548.15" width="4.9" height="4.9" fill="#222"/>
<rect x="405.55" y="549.55" width="4.9" height="4.9" fill="#222"/>
<rect x="422.35" y="494.15" width="4.9" height="4.9" fill="#222"/>
<rect x="438.75" y="519.55" width="4.9" height="4.9" fill="#222"/>
<rect x="455.55" y="516.35" width="4.9" height="4.9" fill="#222"/>
<rect x="471.35" y="533.15" width="4.9" height="4.9" fill="#222"/>
<rect x="488.15" y="525.35" width="4.9" height="4.9" fill="#222"/>
<rect x="504.55" y="550.45" width="4.9" height="4.9" fill="#222"/>
<polygon points="305.80,561.80 312.60,561.80 309.20,555.50" fill="#a8a8a8" stroke="none" stroke-width="0"/>
<polygon points="322.30,562.30 329.10,562.30 325.70,556.00" fill="#a8a8a8" stroke="none" stroke-width="0"/>
<polygon points="338.70,556.80 345.50,556.80 342.10,550.50" fill="#a8a8a8" stroke="none" stroke-width="0"/>
<polygon points="355.00,566.60 361.80,566.60 358.40,560.30" fill="#a8a8a8" stroke="none" stroke-width="0"/>
<polygon points="371.20,559.40 378.00,559.40 374.60,553.10" fill="#a8a8a8" stroke="none" stroke-width="0"/>
<polygon points="387.50,559.40 394.30,559.40 390.90,553.10" fill="#a8a8a8" stroke="none" stroke-width="0"/>
<polygon points="404.60,556.30 411.40,556.30 408.00,550.00" fill="#a8a8a8" stroke="none" stroke-width="0"/>
<polygon points="421.40,560.80 428.20,560.80 424.80,554.50" fill="#a8a8a8" stroke="none" stroke-width="0"/>
<polygon points="437.80,562.30 444.60,562.30 441.20,556.00" fill="#a8a8a8" stroke="none" stroke-width="0"/>
<polygon points="454.60,560.60 461.40,560.60 458.00,554.30" fill="#a8a8a8" stroke="none" stroke-width="0"/>
<polygon points="470.40,569.50 477.20,569.50 473.80,563.20" fill="#a8a8a8" stroke="none" stroke-width="0"/>
<polygon points="487.20,564.80 494.00,564.80 490.60,558.50" fill="#a8a8a8" stroke="none" stroke-width="0"/>
<polygon points="503.60,562.30 510.40,562.30 507.00,556.00" fill="#a8a8a8" stroke="none" stroke-width="0"/>
<line x1="306.5" y1="570.3" x2="311.9" y2="575.7" stroke="#222" stroke-width="1.4"/>
<line x1="306.5" y1="575.7" x2="311.9" y2="570.3" stroke="#222" stroke-width="1.4"/>
<line x1="323.0" y1="570.3" x2="328.4" y2="575.7" stroke="#222" stroke-width="1.4"/>
<line x1="323.0" y1="575.7" x2="328.4" y2="570.3" stroke="#222" stroke-width="1.4"/>
<line x1="339.40000000000003" y1="570.3" x2="344.8" y2="575.7" stroke="#222" stroke-width="1.4"/>
<line x1="339.40000000000003" y1="575.7" x2="344.8" y2="570.3" stroke="#222" stroke-width="1.4"/>
<line x1="355.7" y1="570.3" x2="361.09999999999997" y2="575.7" stroke="#222" stroke-width="1.4"/>
<line x1="355.7" y1="575.7" x2="361.09999999999997" y2="570.3" stroke="#222" stroke-width="1.4"/>
<line x1="371.90000000000003" y1="570.3" x2="377.3" y2="575.7" stroke="#222" stroke-width="1.4"/>
<line x1="371.90000000000003" y1="575.7" x2="377.3" y2="570.3" stroke="#222" stroke-width="1.4"/>
<line x1="388.2" y1="564.5999999999999" x2="393.59999999999997" y2="570.0" stroke="#222" stroke-width="1.4"/>
<line x1="388.2" y1="570.0" x2="393.59999999999997" y2="564.5999999999999" stroke="#222" stroke-width="1.4"/>
<line x1="405.3" y1="565.5" x2="410.7" y2="570.9000000000001" stroke="#222" stroke-width="1.4"/>
<line x1="405.3" y1="570.9000000000001" x2="410.7" y2="565.5" stroke="#222" stroke-width="1.4"/>
<line x1="422.1" y1="565.5" x2="427.5" y2="570.9000000000001" stroke="#222" stroke-width="1.4"/>
<line x1="422.1" y1="570.9000000000001" x2="427.5" y2="565.5" stroke="#222" stroke-width="1.4"/>
<line x1="438.5" y1="566.0" x2="443.9" y2="571.4000000000001" stroke="#222" stroke-width="1.4"/>
<line x1="438.5" y1="571.4000000000001" x2="443.9" y2="566.0" stroke="#222" stroke-width="1.4"/>
<line x1="455.3" y1="564.0" x2="460.7" y2="569.4000000000001" stroke="#222" stroke-width="1.4"/>
<line x1="455.3" y1="569.4000000000001" x2="460.7" y2="564.0" stroke="#222" stroke-width="1.4"/>
<line x1="471.1" y1="565.5" x2="476.5" y2="570.9000000000001" stroke="#222" stroke-width="1.4"/>
<line x1="471.1" y1="570.9000000000001" x2="476.5" y2="565.5" stroke="#222" stroke-width="1.4"/>
<line x1="487.90000000000003" y1="566.0" x2="493.3" y2="571.4000000000001" stroke="#222" stroke-width="1.4"/>
<line x1="487.90000000000003" y1="571.4000000000001" x2="493.3" y2="566.0" stroke="#222" stroke-width="1.4"/>
<line x1="504.3" y1="564.5999999999999" x2="509.7" y2="570.0" stroke="#222" stroke-width="1.4"/>
<line x1="504.3" y1="570.0" x2="509.7" y2="564.5999999999999" stroke="#222" stroke-width="1.4"/>
<line x1="434" y1="420.8" x2="466.6" y2="420.8" stroke="#8c8c8c" stroke-width="1.4"/>
<polygon points="446.90,420.80 450.20,417.40 453.50,420.80 450.20,424.20" fill="#a0a0a0" stroke="none" stroke-width="0"/>
<text x="468.6" y="424.5" font-size="10.3" text-anchor="start" textLength="41" lengthAdjust="spacingAndGlyphs" fill="#111" stroke="#111" stroke-width="0.3">WT-Cdk9</text>
<line x1="434" y1="436.7" x2="466.6" y2="436.7" stroke="#1a1a1a" stroke-width="1.35"/>
<rect x="447.75" y="434.25" width="4.9" height="4.9" fill="#222"/>
<text x="468.6" y="440.4" font-size="10.3" text-anchor="start" textLength="52" lengthAdjust="spacingAndGlyphs" fill="#111" stroke="#111" stroke-width="0.3">ΔLCR-Cdk9</text>
<line x1="434" y1="452.8" x2="466.6" y2="452.8" stroke="#a8a8a8" stroke-width="1.4" stroke-dasharray="1.5 1.9"/>
<polygon points="446.80,455.60 453.60,455.60 450.20,449.30" fill="#a8a8a8" stroke="none" stroke-width="0"/>
<text x="468.6" y="456.5" font-size="10.3" text-anchor="start" textLength="33.5" lengthAdjust="spacingAndGlyphs" fill="#111" stroke="#111" stroke-width="0.3">WT-IgG</text>
<line x1="434" y1="469.0" x2="466.6" y2="469.0" stroke="#222" stroke-width="1.4" stroke-dasharray="1.5 1.9"/>
<line x1="447.5" y1="466.3" x2="452.9" y2="471.7" stroke="#222" stroke-width="1.4"/>
<line x1="447.5" y1="471.7" x2="452.9" y2="466.3" stroke="#222" stroke-width="1.4"/>
<text x="468.6" y="472.7" font-size="10.3" text-anchor="start" textLength="44.5" lengthAdjust="spacingAndGlyphs" fill="#111" stroke="#111" stroke-width="0.3">ΔLCR-IgG</text>
<text x="314.9" y="577.7" font-size="12.3" text-anchor="end" transform="rotate(-90 314.9 577.7)" textLength="24.3" lengthAdjust="spacingAndGlyphs" fill="#000">HS5</text>
<text x="333.0" y="577.7" font-size="12.3" text-anchor="end" transform="rotate(-90 333.0 577.7)" textLength="24.3" lengthAdjust="spacingAndGlyphs" fill="#000">HS4</text>
<text x="350.3" y="577.7" font-size="12.3" text-anchor="end" transform="rotate(-90 350.3 577.7)" textLength="24.3" lengthAdjust="spacingAndGlyphs" fill="#000">HS3</text>
<text x="367.1" y="577.7" font-size="12.3" text-anchor="end" transform="rotate(-90 367.1 577.7)" textLength="24.3" lengthAdjust="spacingAndGlyphs" fill="#000">HS2</text>
<text x="383.4" y="577.7" font-size="12.3" text-anchor="end" transform="rotate(-90 383.4 577.7)" textLength="24.3" lengthAdjust="spacingAndGlyphs" fill="#000">HS1</text>
<text x="395.8" y="578.8" font-size="12.3" text-anchor="end" transform="rotate(-90 395.8 578.8)" textLength="27.8" lengthAdjust="spacingAndGlyphs" fill="#000">εyPro</text>
<text x="412.3" y="578.8" font-size="12.3" text-anchor="end" transform="rotate(-90 412.3 578.8)" textLength="42.2" lengthAdjust="spacingAndGlyphs" fill="#000">βH1Pro</text>
<text x="431.0" y="578.6" font-size="12.3" text-anchor="end" transform="rotate(-90 431.0 578.6)" textLength="18.2" lengthAdjust="spacingAndGlyphs" fill="#000">Pro</text>
<text x="447.2" y="578.8" font-size="12.3" text-anchor="end" transform="rotate(-90 447.2 578.8)" textLength="22.6" lengthAdjust="spacingAndGlyphs" fill="#000">start</text>
<text x="464.2" y="578.6" font-size="12.3" text-anchor="end" transform="rotate(-90 464.2 578.6)" textLength="20.4" lengthAdjust="spacingAndGlyphs" fill="#000">Ex2</text>
<text x="478.9" y="578.6" font-size="12.3" text-anchor="end" transform="rotate(-90 478.9 578.6)" textLength="20.4" lengthAdjust="spacingAndGlyphs" fill="#000">Ex3</text>
<text x="497.2" y="580.2" font-size="12.3" text-anchor="end" transform="rotate(-90 497.2 580.2)" textLength="31.8" lengthAdjust="spacingAndGlyphs" fill="#000">3'HS1</text>
<text x="512.6" y="578.8" font-size="12.3" text-anchor="end" transform="rotate(-90 512.6 578.8)" textLength="36.6" lengthAdjust="spacingAndGlyphs" fill="#000">Necdin</text>
<line x1="320.8" y1="610" x2="381.3" y2="610" stroke="#000" stroke-width="1.6"/>
<text x="354.5" y="628.8" font-size="16.2" text-anchor="middle" textLength="31.0" lengthAdjust="spacingAndGlyphs" fill="#000">LCR</text>
<line x1="422.5" y1="610.2" x2="482.2" y2="610.2" stroke="#000" stroke-width="1.6"/>
<text x="451.6" y="628.5" font-size="16.2" text-anchor="middle" textLength="34.0" lengthAdjust="spacingAndGlyphs" fill="#000">βmaj</text>
</g>
<g id="panelF">
<text x="1.0" y="666.4" font-size="17.4" text-anchor="start" font-weight="bold" fill="#000">F</text>
<line x1="46.2" y1="660" x2="46.2" y2="803.0" stroke="#777" stroke-width="1"/>
<line x1="46.2" y1="803.0" x2="498.7" y2="803.0" stroke="#777" stroke-width="1"/>
<line x1="43.2" y1="803.0" x2="46.2" y2="803.0" stroke="#777" stroke-width="0.8"/>
<text x="42.800000000000004" y="806.9" font-size="11" text-anchor="end" fill="#000">0</text>
<line x1="43.2" y1="774.5" x2="46.2" y2="774.5" stroke="#777" stroke-width="0.8"/>
<text x="42.800000000000004" y="778.4" font-size="11" text-anchor="end" fill="#000">0.1</text>
<line x1="43.2" y1="746.0" x2="46.2" y2="746.0" stroke="#777" stroke-width="0.8"/>
<text x="42.800000000000004" y="749.9" font-size="11" text-anchor="end" fill="#000">0.2</text>
<line x1="43.2" y1="717.5" x2="46.2" y2="717.5" stroke="#777" stroke-width="0.8"/>
<text x="42.800000000000004" y="721.4" font-size="11" text-anchor="end" fill="#000">0.3</text>
<line x1="43.2" y1="689.0" x2="46.2" y2="689.0" stroke="#777" stroke-width="0.8"/>
<text x="42.800000000000004" y="692.9" font-size="11" text-anchor="end" fill="#000">0.4</text>
<line x1="43.2" y1="660.5" x2="46.2" y2="660.5" stroke="#777" stroke-width="0.8"/>
<text x="42.800000000000004" y="664.4" font-size="11" text-anchor="end" fill="#000">0.5</text>
<text x="21.2" y="731" font-size="16" text-anchor="middle" transform="rotate(-90 21.2 731)" fill="#000">Enrichment</text>
<line x1="273.5" y1="656.5" x2="273.5" y2="843" stroke="#777" stroke-width="1"/>
<line x1="84.3" y1="803.0" x2="84.3" y2="823.5" stroke="#777" stroke-width="1"/>
<line x1="122.5" y1="803.0" x2="122.5" y2="823.5" stroke="#777" stroke-width="1"/>
<line x1="160.8" y1="803.0" x2="160.8" y2="823.5" stroke="#777" stroke-width="1"/>
<line x1="198.5" y1="803.0" x2="198.5" y2="823.5" stroke="#777" stroke-width="1"/>
<line x1="236.8" y1="803.0" x2="236.8" y2="823.5" stroke="#777" stroke-width="1"/>
<line x1="310.7" y1="803.0" x2="310.7" y2="823.5" stroke="#777" stroke-width="1"/>
<line x1="347.8" y1="803.0" x2="347.8" y2="823.5" stroke="#777" stroke-width="1"/>
<line x1="385.4" y1="803.0" x2="385.4" y2="823.5" stroke="#777" stroke-width="1"/>
<line x1="423.2" y1="803.0" x2="423.2" y2="823.5" stroke="#777" stroke-width="1"/>
<line x1="462.0" y1="803.0" x2="462.0" y2="823.5" stroke="#777" stroke-width="1"/>
<line x1="498.7" y1="803.0" x2="498.7" y2="806.0" stroke="#777" stroke-width="1"/>
<rect x="51.90" y="798.00" width="6.70" height="5.00" fill="#b4b4b4" stroke="#000" stroke-width="1.15"/>
<rect x="58.60" y="793.40" width="7.20" height="9.60" fill="#000" stroke="#000" stroke-width="1.15"/>
<rect x="65.80" y="789.10" width="6.50" height="13.90" fill="#fff" stroke="#000" stroke-width="1.15"/>
<line x1="69.05" y1="788" x2="69.05" y2="789.1" stroke="#000" stroke-width="1.4"/>
<line x1="66.14999999999999" y1="788" x2="71.95" y2="788" stroke="#000" stroke-width="1.5"/>
<rect x="72.30" y="796.60" width="7.00" height="6.40" fill="#e2e2e2" stroke="#000" stroke-width="1.15"/>
<rect x="88.80" y="795.80" width="7.00" height="7.20" fill="#b4b4b4" stroke="#000" stroke-width="1.15"/>
<line x1="92.3" y1="792.9" x2="92.3" y2="795.8" stroke="#000" stroke-width="1.4"/>
<line x1="89.39999999999999" y1="792.9" x2="95.2" y2="792.9" stroke="#000" stroke-width="1.5"/>
<rect x="95.80" y="794.30" width="6.80" height="8.70" fill="#000" stroke="#000" stroke-width="1.15"/>
<rect x="102.60" y="790.60" width="7.00" height="12.40" fill="#fff" stroke="#000" stroke-width="1.15"/>
<line x1="106.1" y1="789.5" x2="106.1" y2="790.6" stroke="#000" stroke-width="1.4"/>
<line x1="103.19999999999999" y1="789.5" x2="109.0" y2="789.5" stroke="#000" stroke-width="1.5"/>
<rect x="109.60" y="795.20" width="7.20" height="7.80" fill="#e2e2e2" stroke="#000" stroke-width="1.15"/>
<rect x="127.00" y="796.10" width="6.90" height="6.90" fill="#b4b4b4" stroke="#000" stroke-width="1.15"/>
<line x1="130.45" y1="789.9" x2="130.45" y2="796.1" stroke="#000" stroke-width="1.4"/>
<line x1="127.54999999999998" y1="789.9" x2="133.35" y2="789.9" stroke="#000" stroke-width="1.5"/>
<rect x="133.90" y="790.60" width="7.20" height="12.40" fill="#000" stroke="#000" stroke-width="1.15"/>
<line x1="137.5" y1="787.3" x2="137.5" y2="790.6" stroke="#000" stroke-width="1.4"/>
<line x1="134.6" y1="787.3" x2="140.4" y2="787.3" stroke="#000" stroke-width="1.5"/>
<rect x="141.10" y="790.60" width="6.70" height="12.40" fill="#fff" stroke="#000" stroke-width="1.15"/>
<line x1="144.45" y1="785.7" x2="144.45" y2="790.6" stroke="#000" stroke-width="1.4"/>
<line x1="141.54999999999998" y1="785.7" x2="147.35" y2="785.7" stroke="#000" stroke-width="1.5"/>
<rect x="147.80" y="788.00" width="7.00" height="15.00" fill="#e2e2e2" stroke="#000" stroke-width="1.15"/>
<line x1="151.3" y1="783.4" x2="151.3" y2="788" stroke="#000" stroke-width="1.4"/>
<line x1="148.4" y1="783.4" x2="154.20000000000002" y2="783.4" stroke="#000" stroke-width="1.5"/>
<rect x="164.60" y="798.10" width="6.90" height="4.90" fill="#b4b4b4" stroke="#000" stroke-width="1.15"/>
<line x1="168.05" y1="795.5" x2="168.05" y2="798.1" stroke="#000" stroke-width="1.4"/>
<line x1="165.15" y1="795.5" x2="170.95000000000002" y2="795.5" stroke="#000" stroke-width="1.5"/>
<rect x="171.50" y="790.60" width="7.10" height="12.40" fill="#000" stroke="#000" stroke-width="1.15"/>
<line x1="175.05" y1="787.3" x2="175.05" y2="790.6" stroke="#000" stroke-width="1.4"/>
<line x1="172.15" y1="787.3" x2="177.95000000000002" y2="787.3" stroke="#000" stroke-width="1.5"/>
<rect x="178.60" y="768.70" width="6.70" height="34.30" fill="#fff" stroke="#000" stroke-width="1.15"/>
<line x1="181.95" y1="757.9" x2="181.95" y2="768.7" stroke="#000" stroke-width="1.4"/>
<line x1="179.04999999999998" y1="757.9" x2="184.85" y2="757.9" stroke="#000" stroke-width="1.5"/>
<rect x="185.30" y="728.50" width="7.10" height="74.50" fill="#e2e2e2" stroke="#000" stroke-width="1.15"/>
<line x1="188.85000000000002" y1="711.5" x2="188.85000000000002" y2="728.5" stroke="#000" stroke-width="1.4"/>
<line x1="185.95000000000002" y1="711.5" x2="191.75000000000003" y2="711.5" stroke="#000" stroke-width="1.5"/>
<rect x="202.50" y="796.10" width="6.70" height="6.90" fill="#b4b4b4" stroke="#000" stroke-width="1.15"/>
<line x1="205.85" y1="793.8" x2="205.85" y2="796.1" stroke="#000" stroke-width="1.4"/>
<line x1="202.95" y1="793.8" x2="208.75" y2="793.8" stroke="#000" stroke-width="1.5"/>
<rect x="209.20" y="771.60" width="7.00" height="31.40" fill="#000" stroke="#000" stroke-width="1.15"/>
<line x1="212.7" y1="762.8" x2="212.7" y2="771.6" stroke="#000" stroke-width="1.4"/>
<line x1="209.79999999999998" y1="762.8" x2="215.6" y2="762.8" stroke="#000" stroke-width="1.5"/>
<rect x="216.20" y="713.70" width="6.80" height="89.30" fill="#fff" stroke="#000" stroke-width="1.15"/>
<line x1="219.6" y1="701.7" x2="219.6" y2="713.7" stroke="#000" stroke-width="1.4"/>
<line x1="216.7" y1="701.7" x2="222.5" y2="701.7" stroke="#000" stroke-width="1.5"/>
<rect x="223.00" y="699.00" width="7.30" height="104.00" fill="#e2e2e2" stroke="#000" stroke-width="1.15"/>
<line x1="226.65" y1="676.8" x2="226.65" y2="699" stroke="#000" stroke-width="1.4"/>
<line x1="223.75" y1="676.8" x2="229.55" y2="676.8" stroke="#000" stroke-width="1.5"/>
<rect x="239.80" y="797.80" width="6.80" height="5.20" fill="#b4b4b4" stroke="#000" stroke-width="1.15"/>
<line x1="243.2" y1="795.5" x2="243.2" y2="797.8" stroke="#000" stroke-width="1.4"/>
<line x1="240.29999999999998" y1="795.5" x2="246.1" y2="795.5" stroke="#000" stroke-width="1.5"/>
<rect x="246.60" y="783.40" width="7.20" height="19.60" fill="#000" stroke="#000" stroke-width="1.15"/>
<line x1="250.2" y1="778.1" x2="250.2" y2="783.4" stroke="#000" stroke-width="1.4"/>
<line x1="247.29999999999998" y1="778.1" x2="253.1" y2="778.1" stroke="#000" stroke-width="1.5"/>
<rect x="253.80" y="766.00" width="6.80" height="37.00" fill="#fff" stroke="#000" stroke-width="1.15"/>
<line x1="257.20000000000005" y1="761.1" x2="257.20000000000005" y2="766" stroke="#000" stroke-width="1.4"/>
<line x1="254.30000000000004" y1="761.1" x2="260.1" y2="761.1" stroke="#000" stroke-width="1.5"/>
<rect x="260.60" y="738.90" width="7.30" height="64.10" fill="#e2e2e2" stroke="#000" stroke-width="1.15"/>
<line x1="264.25" y1="730.7" x2="264.25" y2="738.9" stroke="#000" stroke-width="1.4"/>
<line x1="261.35" y1="730.7" x2="267.15" y2="730.7" stroke="#000" stroke-width="1.5"/>
<rect x="277.00" y="796.10" width="7.50" height="6.90" fill="#b4b4b4" stroke="#000" stroke-width="1.15"/>
<rect x="284.50" y="793.80" width="7.20" height="9.20" fill="#000" stroke="#000" stroke-width="1.15"/>
<line x1="288.1" y1="790.6" x2="288.1" y2="793.8" stroke="#000" stroke-width="1.4"/>
<line x1="285.20000000000005" y1="790.6" x2="291.0" y2="790.6" stroke="#000" stroke-width="1.5"/>
<rect x="291.70" y="789.60" width="7.10" height="13.40" fill="#fff" stroke="#000" stroke-width="1.15"/>
<line x1="295.25" y1="784.7" x2="295.25" y2="789.6" stroke="#000" stroke-width="1.4"/>
<line x1="292.35" y1="784.7" x2="298.15" y2="784.7" stroke="#000" stroke-width="1.5"/>
<rect x="298.80" y="796.10" width="7.00" height="6.90" fill="#e2e2e2" stroke="#000" stroke-width="1.15"/>
<line x1="302.3" y1="793.2" x2="302.3" y2="796.1" stroke="#000" stroke-width="1.4"/>
<line x1="299.40000000000003" y1="793.2" x2="305.2" y2="793.2" stroke="#000" stroke-width="1.5"/>
<rect x="314.60" y="796.10" width="7.50" height="6.90" fill="#b4b4b4" stroke="#000" stroke-width="1.15"/>
<rect x="322.10" y="793.20" width="7.20" height="9.80" fill="#000" stroke="#000" stroke-width="1.15"/>
<rect x="329.30" y="789.60" width="7.00" height="13.40" fill="#fff" stroke="#000" stroke-width="1.15"/>
<line x1="332.8" y1="785" x2="332.8" y2="789.6" stroke="#000" stroke-width="1.4"/>
<line x1="329.90000000000003" y1="785" x2="335.7" y2="785" stroke="#000" stroke-width="1.5"/>
<rect x="336.30" y="792.90" width="7.10" height="10.10" fill="#e2e2e2" stroke="#000" stroke-width="1.15"/>
<line x1="339.85" y1="789.9" x2="339.85" y2="792.9" stroke="#000" stroke-width="1.4"/>
<line x1="336.95000000000005" y1="789.9" x2="342.75" y2="789.9" stroke="#000" stroke-width="1.5"/>
<rect x="352.50" y="794.80" width="7.20" height="8.20" fill="#b4b4b4" stroke="#000" stroke-width="1.15"/>
<line x1="356.1" y1="789.9" x2="356.1" y2="794.8" stroke="#000" stroke-width="1.4"/>
<line x1="353.20000000000005" y1="789.9" x2="359.0" y2="789.9" stroke="#000" stroke-width="1.5"/>
<rect x="359.70" y="793.80" width="7.50" height="9.20" fill="#000" stroke="#000" stroke-width="1.15"/>
<line x1="363.45" y1="791.2" x2="363.45" y2="793.8" stroke="#000" stroke-width="1.4"/>
<line x1="360.55" y1="791.2" x2="366.34999999999997" y2="791.2" stroke="#000" stroke-width="1.5"/>
<rect x="367.20" y="786.60" width="6.80" height="16.40" fill="#fff" stroke="#000" stroke-width="1.15"/>
<line x1="370.6" y1="783.4" x2="370.6" y2="786.6" stroke="#000" stroke-width="1.4"/>
<line x1="367.70000000000005" y1="783.4" x2="373.5" y2="783.4" stroke="#000" stroke-width="1.5"/>
<rect x="374.00" y="785.70" width="7.00" height="17.30" fill="#e2e2e2" stroke="#000" stroke-width="1.15"/>
<rect x="390.10" y="797.10" width="7.20" height="5.90" fill="#b4b4b4" stroke="#000" stroke-width="1.15"/>
<line x1="393.70000000000005" y1="795.5" x2="393.70000000000005" y2="797.1" stroke="#000" stroke-width="1.4"/>
<line x1="390.80000000000007" y1="795.5" x2="396.6" y2="795.5" stroke="#000" stroke-width="1.5"/>
<rect x="397.30" y="795.50" width="7.50" height="7.50" fill="#000" stroke="#000" stroke-width="1.15"/>
<line x1="401.05" y1="793.8" x2="401.05" y2="795.5" stroke="#000" stroke-width="1.4"/>
<line x1="398.15000000000003" y1="793.8" x2="403.95" y2="793.8" stroke="#000" stroke-width="1.5"/>
<rect x="404.80" y="791.20" width="6.80" height="11.80" fill="#fff" stroke="#000" stroke-width="1.15"/>
<line x1="408.20000000000005" y1="788" x2="408.20000000000005" y2="791.2" stroke="#000" stroke-width="1.4"/>
<line x1="405.30000000000007" y1="788" x2="411.1" y2="788" stroke="#000" stroke-width="1.5"/>
<rect x="411.60" y="779.10" width="7.60" height="23.90" fill="#e2e2e2" stroke="#000" stroke-width="1.15"/>
<rect x="427.50" y="797.80" width="7.50" height="5.20" fill="#b4b4b4" stroke="#000" stroke-width="1.15"/>
<rect x="435.00" y="785.00" width="7.20" height="18.00" fill="#000" stroke="#000" stroke-width="1.15"/>
<rect x="442.20" y="773.60" width="7.00" height="29.40" fill="#fff" stroke="#000" stroke-width="1.15"/>
<line x1="445.7" y1="767.7" x2="445.7" y2="773.6" stroke="#000" stroke-width="1.4"/>
<line x1="442.8" y1="767.7" x2="448.59999999999997" y2="767.7" stroke="#000" stroke-width="1.5"/>
<rect x="449.20" y="771.60" width="7.00" height="31.40" fill="#e2e2e2" stroke="#000" stroke-width="1.15"/>
<line x1="452.7" y1="766" x2="452.7" y2="771.6" stroke="#000" stroke-width="1.4"/>
<line x1="449.8" y1="766" x2="455.59999999999997" y2="766" stroke="#000" stroke-width="1.5"/>
<rect x="465.40" y="792.90" width="7.20" height="10.10" fill="#b4b4b4" stroke="#000" stroke-width="1.15"/>
<rect x="472.60" y="785.70" width="7.20" height="17.30" fill="#000" stroke="#000" stroke-width="1.15"/>
<line x1="476.20000000000005" y1="783.4" x2="476.20000000000005" y2="785.7" stroke="#000" stroke-width="1.4"/>
<line x1="473.30000000000007" y1="783.4" x2="479.1" y2="783.4" stroke="#000" stroke-width="1.5"/>
<rect x="479.80" y="780.80" width="7.00" height="22.20" fill="#fff" stroke="#000" stroke-width="1.15"/>
<line x1="483.3" y1="775.9" x2="483.3" y2="780.8" stroke="#000" stroke-width="1.4"/>
<line x1="480.40000000000003" y1="775.9" x2="486.2" y2="775.9" stroke="#000" stroke-width="1.5"/>
<rect x="486.80" y="776.50" width="7.00" height="26.50" fill="#e2e2e2" stroke="#000" stroke-width="1.15"/>
<line x1="490.3" y1="775.2" x2="490.3" y2="776.5" stroke="#000" stroke-width="1.4"/>
<line x1="487.40000000000003" y1="775.2" x2="493.2" y2="775.2" stroke="#000" stroke-width="1.5"/>
<text x="66" y="820" font-size="12.3" text-anchor="middle" fill="#000">εy</text>
<text x="102.5" y="820" font-size="12.3" text-anchor="middle" fill="#000">βH1</text>
<text x="142.2" y="820" font-size="12.3" text-anchor="middle" fill="#000">β Pro</text>
<text x="179.8" y="820" font-size="12.3" text-anchor="middle" fill="#000">β St</text>
<text x="218.2" y="820" font-size="12.3" text-anchor="middle" fill="#000">β EX2</text>
<text x="251.8" y="820" font-size="12.3" text-anchor="middle" fill="#000">β 3'</text>
<text x="294.3" y="820" font-size="12.3" text-anchor="middle" fill="#000">εy</text>
<text x="329.8" y="820" font-size="12.3" text-anchor="middle" fill="#000">βH1</text>
<text x="367.8" y="820" font-size="12.3" text-anchor="middle" fill="#000">β Pro</text>
<text x="404.8" y="820" font-size="12.3" text-anchor="middle" fill="#000">β St</text>
<text x="443.4" y="820" font-size="12.3" text-anchor="middle" fill="#000">β EX2</text>
<text x="478.3" y="820" font-size="12.3" text-anchor="middle" fill="#000">β 3'</text>
<text x="255.1" y="834.8" font-size="12.6" text-anchor="middle" textLength="26.2" lengthAdjust="spacingAndGlyphs" fill="#000">UTR</text>
<text x="481" y="835.2" font-size="12.6" text-anchor="middle" textLength="26.0" lengthAdjust="spacingAndGlyphs" fill="#000">UTR</text>
<text x="121.4" y="845.5" font-size="16" text-anchor="start" fill="#000">WT Fetal Liver</text>
<text x="342.8" y="845.5" font-size="16" text-anchor="start" fill="#000">ΔLCR Fetal Liver</text>
<rect x="372.90" y="668.20" width="8.40" height="8.20" fill="#b4b4b4" stroke="#000" stroke-width="1"/>
<text x="387.8" y="676.3" font-size="13" text-anchor="start" fill="#000">IgG</text>
<rect x="372.90" y="683.80" width="8.40" height="8.20" fill="#000" stroke="#000" stroke-width="1"/>
<text x="387.8" y="692.3" font-size="13" text-anchor="start" fill="#000">SSRP1 (FACT)</text>
<rect x="372.90" y="699.40" width="8.40" height="8.20" fill="#fff" stroke="#000" stroke-width="1"/>
<text x="387.8" y="708.3" font-size="13" text-anchor="start" fill="#000">SPT16 (FACT)</text>
<rect x="372.90" y="715.00" width="8.40" height="8.20" fill="#e2e2e2" stroke="#000" stroke-width="1"/>
<text x="387.8" y="724.3" font-size="13" text-anchor="start" fill="#000">SPT5 (DSIF)</text>
</g>
</svg></body></html>
